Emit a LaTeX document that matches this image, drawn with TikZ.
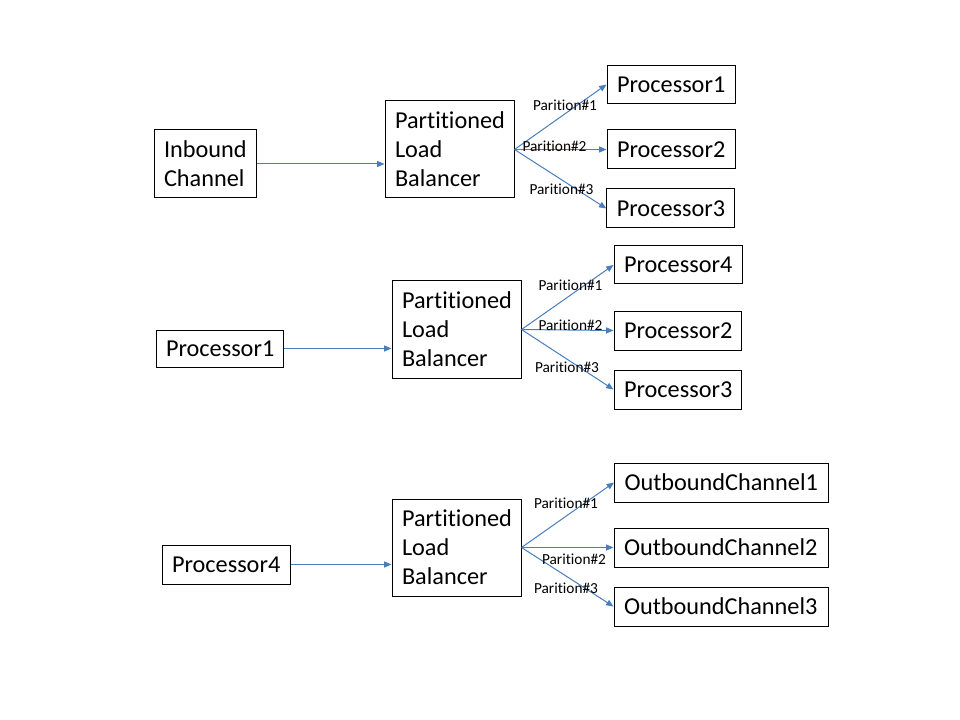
\documentclass[tikz,border=0pt]{standalone}
\usepackage{fontspec}
\setmainfont{Carlito}[RawFeature=-liga]
\usetikzlibrary{arrows.meta}
\definecolor{linkblue}{RGB}{74,126,187}

\tikzset{
  box/.style={draw, line width=0.75pt, inner xsep=7.5pt, inner ysep=0pt,
    align=left, font=\fontsize{18.2}{21.75}\selectfont},
  part/.style={inner sep=0pt, font=\fontsize{11.5}{13}\selectfont},
  link/.style={draw=linkblue, line width=0.75pt, -{Triangle[length=5.5pt,width=4.5pt]}},
}

\begin{document}
\begin{tikzpicture}[x=0.75pt, y=-0.75pt]
  \useasboundingbox[fill=white] (0,0) rectangle (960,720);

  % first stage
  \node[box, text width=61.5pt, minimum height=51pt] (in1) at (205,164) {Inbound\\Channel};
  \node[box, text width=81.75pt, minimum height=72.75pt] (lb1) at (449.5,149.5) {Partitioned\\Load\\Balancer};
  \node[box, text width=81pt, minimum height=28.5pt] (p11) at (671,84.5) {Processor1};
  \node[box, text width=81pt, minimum height=29.25pt] (p12) at (671,149.5) {Processor2};
  \node[box, text width=80.5pt, minimum height=29.25pt] (p13) at (670.5,208.5) {Processor3};

  \draw[link] (in1.east) -- (in1.east -| lb1.west);
  \draw[link] (lb1.east) -- (p11.west);
  \draw[link] (lb1.east) -- (p12.west);
  \draw[link] (lb1.east) -- (p13.west);

  \node[part] (l11) at (565,105) {Parition\#1};
  \node[part] (l12) at (554.5,146) {Parition\#2};
  \node[part] (l13) at (561.5,189) {Parition\#3};

  % second stage
  \node[box, text width=80.25pt, minimum height=27.75pt] (in2) at (219.5,348.5) {Processor1};
  \node[box, text width=81.75pt, minimum height=72.75pt] (lb2) at (456.5,329.5) {Partitioned\\Load\\Balancer};
  \node[box, text width=81pt, minimum height=28.5pt] (p21) at (678,265) {Processor4};
  \node[box, text width=80.25pt, minimum height=29.25pt] (p22) at (677.5,330.5) {Processor2};
  \node[box, text width=80.25pt, minimum height=29.25pt] (p23) at (677.5,389.5) {Processor3};

  \draw[link] (in2.east) -- (in2.east -| lb2.west);
  \draw[link] (lb2.east) -- (p21.west);
  \draw[link] (lb2.east) -- (p22.west);
  \draw[link] (lb2.east) -- (p23.west);

  \node[part] (l21) at (570.5,285) {Parition\#1};
  \node[part] (l22) at (570.5,325) {Parition\#2};
  \node[part] (l23) at (567,367) {Parition\#3};

  % third stage
  \node[box, text width=81pt, minimum height=29.25pt] (in3) at (226,564.5) {Processor4};
  \node[box, text width=81.75pt, minimum height=72.75pt] (lb3) at (456.5,547.5) {Partitioned\\Load\\Balancer};
  \node[box, text width=145.5pt, minimum height=29.25pt] (o1) at (721.5,482.5) {OutboundChannel1};
  \node[box, text width=145.5pt, minimum height=29.25pt] (o2) at (721,547.5) {OutboundChannel2};
  \node[box, text width=145.5pt, minimum height=29.25pt] (o3) at (721,606.5) {OutboundChannel3};

  \draw[link] (in3.east) -- (in3.east -| lb3.west);
  \draw[link] (lb3.east) -- (o1.west);
  \draw[link] (lb3.east) -- (o2.west);
  \draw[link] (lb3.east) -- (o3.west);

  \node[part] (l31) at (566,503) {Parition\#1};
  \node[part] (l32) at (574,559) {Parition\#2};
  \node[part] (l33) at (566,588) {Parition\#3};
\end{tikzpicture}
\end{document}
